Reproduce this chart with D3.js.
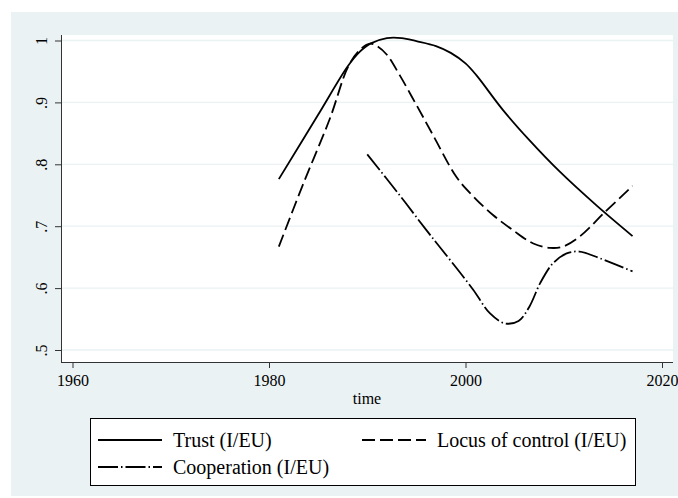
<!DOCTYPE html>
<html>
<head>
<meta charset="utf-8">
<script src="https://cdn.jsdelivr.net/npm/d3@7"></script>
<style>
  html, body { margin: 0; padding: 0; background: #ffffff; }
  svg { display: block; }
  svg text { font-family: "Liberation Serif", "Times New Roman", serif !important; fill: #000; }
</style>
</head>
<body>
<svg id="chart" width="678" height="498"></svg>
<script>
// ---- data ----
const trustYears = [1981, 1985, 1988, 1989.25, 1990.3, 1992, 1993.5, 1995, 1997, 1998.5, 2000, 2001.1, 2003.8, 2006.5, 2009.6, 2013.3, 2017];
const trustValues = [0.776, 0.880, 0.958, 0.982, 0.995, 1.004, 1.004, 0.999, 0.991, 0.980, 0.963, 0.944, 0.888, 0.839, 0.788, 0.734, 0.684];

const locusYears = [1981, 1983.5, 1986.2, 1988.06, 1989.25, 1990.3, 1991.1, 1992, 1993.3, 1995, 1996.7, 1999.1, 2000.8, 2002.8, 2004.8, 2006.9, 2008.6, 2009.9, 2011.6, 2014.2, 2017];
const locusValues = [0.667, 0.769, 0.874, 0.958, 0.985, 0.995, 0.990, 0.977, 0.944, 0.896, 0.847, 0.779, 0.748, 0.718, 0.694, 0.672, 0.665, 0.667, 0.683, 0.723, 0.765];

const coopYears = [1990, 1993.3, 1996, 1997.4, 1999.1, 2000.8, 2002.5, 2004, 2005.4, 2006.5, 2007.6, 2008.9, 2010.3, 2011.6, 2013.7, 2017];
const coopValues = [0.816, 0.750, 0.694, 0.666, 0.632, 0.597, 0.559, 0.543, 0.547, 0.570, 0.608, 0.640, 0.656, 0.659, 0.648, 0.627];

const xTicks = [1960, 1980, 2000, 2020];
const yTicks = [0.5, 0.6, 0.7, 0.8, 0.9, 1.0];
const yTickLabels = [".5", ".6", ".7", ".8", ".9", "1"];
const seriesNames = ["Trust (I/EU)", "Locus of control (I/EU)", "Cooperation (I/EU)"];
const xTitle = "time";

const FONT = "Liberation Serif, Times New Roman, serif";

// ---- layout ----
const svg = d3.select("#chart");
const bg = "#eaf2f3";
svg.append("rect").attr("x", 11).attr("y", 12).attr("width", 667).attr("height", 484).attr("fill", bg);

const plot = { left: 61, right: 673, top: 35, bottom: 362 };
svg.append("rect").attr("x", plot.left).attr("y", plot.top)
  .attr("width", plot.right - plot.left).attr("height", plot.bottom - plot.top).attr("fill", "#ffffff");

const x = d3.scaleLinear().domain([1960, 2020]).range([72.5, 662]);
const y = d3.scaleLinear().domain([0.5, 1.0]).range([350, 40.5]);

// grid lines
svg.append("g").selectAll("line").data(yTicks).join("line")
  .attr("x1", plot.left).attr("x2", plot.right)
  .attr("y1", d => y(d)).attr("y2", d => y(d))
  .attr("stroke", bg).attr("stroke-width", 1.3);

// y axis
const yAxis = d3.axisLeft(y).tickValues(yTicks).tickSize(6).tickPadding(0)
  .tickFormat((d, i) => yTickLabels[i]);
const gy = svg.append("g").attr("transform", `translate(${plot.left},0)`).call(yAxis)
  .attr("font-family", FONT).attr("font-size", 16);
gy.select(".domain").attr("d", `M0.5,${plot.top}V${plot.bottom}`).attr("stroke", "#333").attr("stroke-width", 1);
gy.selectAll(".tick line").attr("stroke", "#333");
gy.selectAll(".tick text")
  .attr("transform", "rotate(-90)")
  .attr("x", 0).attr("y", -19).attr("dy", "0.33em")
  .attr("text-anchor", "middle")
  .style("font-family", FONT).style("font-size", "16px");

// x axis
const xAxis = d3.axisBottom(x).tickValues(xTicks).tickSize(6).tickPadding(4).tickFormat(d3.format("d"));
const gx = svg.append("g").attr("transform", `translate(0,${plot.bottom})`).call(xAxis)
  .attr("font-family", FONT).attr("font-size", 16);
gx.select(".domain").attr("d", `M${plot.left},0.5H${plot.right}`).attr("stroke", "#333").attr("stroke-width", 1);
gx.selectAll(".tick line").attr("stroke", "#333");
gx.selectAll(".tick text").style("font-family", FONT).style("font-size", "16px").attr("dy", "0.85em");

svg.append("text").attr("x", 367).attr("y", 404).attr("text-anchor", "middle")
  .style("font-family", FONT).style("font-size", "16px").text(xTitle);

// lines
const line = d3.line().x(d => x(d[0])).y(d => y(d[1])).curve(d3.curveCatmullRom.alpha(0.5));
const series = [
  { years: trustYears, values: trustValues, dash: null },
  { years: locusYears, values: locusValues, dash: "13,5" },
  { years: coopYears, values: coopValues, dash: "20,3,1.5,3" }
];
series.forEach(s => {
  svg.append("path")
    .datum(s.years.map((yr, i) => [yr, s.values[i]]))
    .attr("d", line)
    .attr("fill", "none").attr("stroke", "#000").attr("stroke-width", 1.8)
    .attr("stroke-dasharray", s.dash);
});

// legend
const lg = svg.append("g");
lg.append("rect").attr("x", 90.5).attr("y", 418.5).attr("width", 545).attr("height", 67)
  .attr("fill", "#fff").attr("stroke", "#000").attr("stroke-width", 1);
const legendPos = [
  { x: 98, y: 440 },
  { x: 362, y: 440 },
  { x: 98, y: 467 }
];
series.forEach((s, i) => {
  const p = legendPos[i];
  lg.append("line").attr("x1", p.x).attr("x2", p.x + 64).attr("y1", p.y).attr("y2", p.y)
    .attr("stroke", "#000").attr("stroke-width", 1.8).attr("stroke-dasharray", s.dash);
  lg.append("text").attr("x", p.x + 75).attr("y", p.y).attr("dy", "0.35em")
    .style("font-family", FONT).style("font-size", "20px").text(seriesNames[i]);
});
</script>
</body>
</html>
